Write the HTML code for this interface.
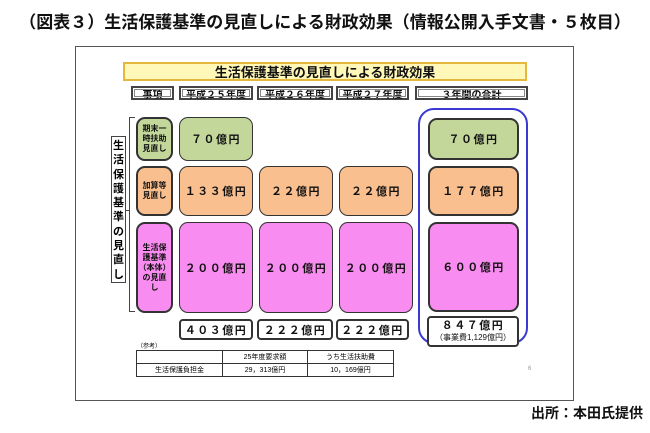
<!DOCTYPE html>
<html><head><meta charset="utf-8"><style>
body{margin:0;width:650px;height:433px;background:#fff;position:relative;overflow:hidden;font-family:"Liberation Sans","Noto Sans CJK JP",sans-serif;}
.a{position:absolute;box-sizing:border-box;display:flex;align-items:center;justify-content:center;text-align:center;font-weight:bold;color:#111;}
.h{border:2px solid #444;background:#fff;font-size:10px;outline:1px solid #888;outline-offset:-4px}
.c{border:1.5px solid #333;border-radius:9px;font-size:11px;letter-spacing:1.5px}
.g{background:#c4d79b}.o{background:#fabf8f}.p{background:#f98cf0}
.t{border:2px solid #333;border-radius:4px;background:#fff;font-size:11px;letter-spacing:1.5px}
.s{font-size:8px;line-height:10px;letter-spacing:0}
table{position:absolute;left:136px;top:350px;border-collapse:collapse;font-size:7px;font-family:"Liberation Sans","Noto Sans CJK JP",sans-serif}
td{border:1px solid #333;text-align:center;height:12px;padding:0}
</style></head><body>
<div class="a" style="left:0;top:6px;width:650px;height:28px;font-size:17px;white-space:nowrap;">（図表３）生活保護基準の見直しによる財政効果（情報公開入手文書・５枚目）</div>
<div style="position:absolute;left:75px;top:46px;width:499px;height:355px;border:1.5px solid #555;box-sizing:border-box"></div>
<div class="a" style="left:123px;top:62px;width:404px;height:19px;background:#fff8b8;border:2px solid #e3b83c;font-size:13px;">生活保護基準の見直しによる財政効果</div>
<div class="a h" style="left:131px;top:86px;width:43px;height:14px">事項</div>
<div class="a h" style="left:179px;top:86px;width:74px;height:14px">平成２５年度</div>
<div class="a h" style="left:257px;top:86px;width:76px;height:14px">平成２６年度</div>
<div class="a h" style="left:336px;top:86px;width:73px;height:14px">平成２７年度</div>
<div class="a h" style="left:415px;top:86px;width:113px;height:14px">３年間の合計</div>
<div style="position:absolute;left:111px;top:136px;width:15px;height:147px;border:1.5px solid #444;box-sizing:border-box;background:#fff"></div>
<div style="position:absolute;left:112px;top:139px;width:13px;font-size:11px;line-height:14.3px;font-weight:bold;text-align:center">生<br>活<br>保<br>護<br>基<br>準<br>の<br>見<br>直<br>し</div>
<div style="position:absolute;left:129px;top:117px;width:5px;height:193px;border:1.5px solid #444;border-right:none"></div>
<div style="position:absolute;left:125px;top:210px;width:5px;border-top:1.5px solid #444"></div>
<div style="position:absolute;left:418px;top:108px;width:110px;height:236px;border:2px solid #3a3ad0;border-radius:16px;box-sizing:border-box"></div>
<div class="a c g s" style="left:136px;top:117px;width:37px;height:44px;border-width:2px">期末一<br>時扶助<br>見直し</div>
<div class="a c o s" style="left:136px;top:166px;width:37px;height:50px;border-width:2px">加算等<br>見直し</div>
<div class="a c p s" style="left:136px;top:222px;width:37px;height:91px;border-width:2px">生活保<br>護基準<br>（本体）<br>の見直<br>し</div>
<div class="a c g" style="left:179px;top:117px;width:74px;height:44px">７０億円</div>
<div class="a c o" style="left:179px;top:166px;width:74px;height:50px">１３３億円</div>
<div class="a c o" style="left:259px;top:166px;width:74px;height:50px">２２億円</div>
<div class="a c o" style="left:339px;top:166px;width:74px;height:50px">２２億円</div>
<div class="a c p" style="left:179px;top:222px;width:74px;height:91px">２００億円</div>
<div class="a c p" style="left:259px;top:222px;width:74px;height:91px">２００億円</div>
<div class="a c p" style="left:339px;top:222px;width:74px;height:91px">２００億円</div>
<div class="a c g" style="left:428px;top:118px;width:91px;height:42px;border-width:2px">７０億円</div>
<div class="a c o" style="left:428px;top:166px;width:91px;height:50px;border-width:2px">１７７億円</div>
<div class="a c p" style="left:428px;top:222px;width:91px;height:90px;border-width:2px">６００億円</div>
<div class="a t" style="left:179px;top:319px;width:74px;height:21px">４０３億円</div>
<div class="a t" style="left:257px;top:319px;width:76px;height:21px">２２２億円</div>
<div class="a t" style="left:336px;top:319px;width:73px;height:21px">２２２億円</div>
<div class="a t" style="left:427px;top:316px;width:92px;height:31px;flex-direction:column;line-height:12px">８４７億円<span style="font-size:8px;font-weight:normal;letter-spacing:0">（事業費1,129億円）</span></div>
<div style="position:absolute;left:137px;top:341px;font-size:6px">（参考）</div>
<table><tr><td style="width:85px"></td><td style="width:84px">25年度要求額</td><td style="width:85px">うち生活扶助費</td></tr>
<tr><td>生活保護負担金</td><td>29，313億円</td><td>10，169億円</td></tr></table>
<div style="position:absolute;left:528px;top:366px;font-size:6px;color:#999">6</div>
<div class="a" style="left:528px;top:402px;width:118px;height:22px;font-size:14px">出所：本田氏提供</div>
</body></html>
